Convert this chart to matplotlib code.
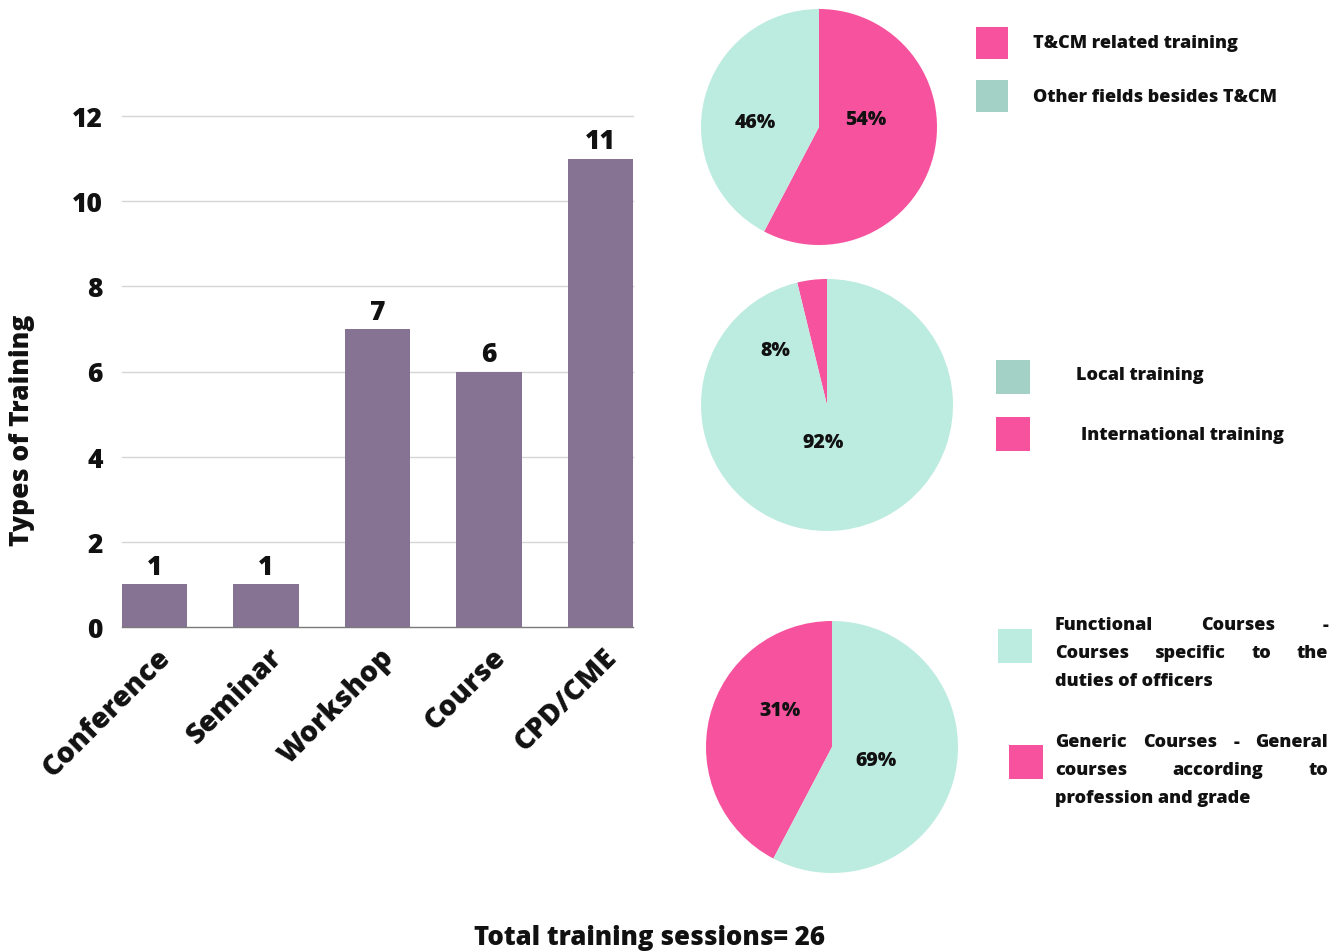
import matplotlib.pyplot as plt
import matplotlib.transforms as mtransforms
from matplotlib.patches import Rectangle

plt.rcParams['font.family'] = ['Open Sans', 'DejaVu Sans']
plt.rcParams['font.weight'] = 'bold'

# bar chart data
categories = ['Conference', 'Seminar', 'Workshop', 'Course', 'CPD/CME']
counts = [1, 1, 7, 6, 11]

# pie data (wedge sizes as drawn, labels as printed)
pie1_sizes = [57.7, 42.3]
pie1_labels = ['54%', '46%']
pie1_legend = ['T&CM related training', 'Other fields besides T&CM']

pie2_sizes = [3.8, 96.2]
pie2_labels = ['8%', '92%']
pie2_legend = ['Local training', 'International training']

pie3_sizes = [42.3, 57.7]
pie3_labels = ['31%', '69%']
pie3_legend = [['Functional Courses -', 'Courses specific to the', 'duties of officers'],
               ['Generic Courses - General', 'courses according to', 'profession and grade']]

PINK = '#F7529E'
MINT = '#BCEBDF'
MINT_DARK = '#A3D1C5'
PURPLE = '#867292'
INK = '#111111'
BOLD = 800

W, H = 1344, 953
fig = plt.figure(figsize=(W / 100, H / 100), dpi=100)


def px_axes(x0, y0, x1, y1):
    # axes from pixel box (top-left origin)
    return fig.add_axes([x0 / W, 1 - y1 / H, (x1 - x0) / W, (y1 - y0) / H])


def fig_xy(x, y):
    return x / W, 1 - y / H


# ---- bar chart
ax = px_axes(122, 117, 633, 628)
xpos = range(len(categories))
bars = ax.bar(xpos, counts, width=0.583, color=PURPLE, zorder=3)
ax.set_xlim(-0.2915, len(categories) - 1 + 0.2915)
ax.set_ylim(0, 12)
ax.set_yticks([0, 2, 4, 6, 8, 10, 12])
ax.set_yticklabels(['0', '2', '4', '6', '8', '10', '12'], fontsize=19, fontweight=BOLD, color=INK)
ax.tick_params(axis='y', length=0, pad=14)
ax.tick_params(axis='x', length=0, pad=4)
for y in [2, 4, 6, 8, 10, 12]:
    ax.axhline(y, color='#d6d6d6', lw=1, zorder=1, clip_on=False)
for s in ['top', 'right', 'left']:
    ax.spines[s].set_visible(False)
ax.spines['bottom'].set_color('#7a7a7a')
ax.spines['bottom'].set_linewidth(1)
ax.bar_label(bars, padding=3, fontsize=19, fontweight=BOLD, color=INK)
ax.set_xticks(list(xpos))
ax.set_xticklabels(categories, rotation=45, ha='right', va='center',
                   rotation_mode='anchor', fontsize=20.5, fontweight=BOLD, color=INK)
shift = mtransforms.ScaledTranslation(12 / 100, -20 / 100, fig.dpi_scale_trans)
for lab in ax.get_xticklabels():
    lab.set_transform(lab.get_transform() + shift)
ax.set_facecolor('none')

fig.text(*fig_xy(22, 430), 'Types of Training', rotation=90, ha='center', va='center',
         fontsize=19, fontweight=BOLD, color=INK)
fig.text(*fig_xy(650, 938), 'Total training sessions= 26', ha='center', va='center',
         fontsize=18.5, fontweight=BOLD, color=INK)


# ---- pies
def draw_pie(cx, cy, r, sizes, colors, ccw, labels, label_pos):
    pa = px_axes(cx - r, cy - r, cx + r, cy + r)
    pa.pie(sizes, colors=colors, startangle=90, counterclock=ccw, radius=1,
           wedgeprops=dict(linewidth=0))
    pa.set_xlim(-1, 1)
    pa.set_ylim(-1, 1)
    pa.set_aspect('equal')
    pa.axis('off')
    for t, (lx, ly) in zip(labels, label_pos):
        pa.text(lx, ly, t, ha='center', va='center', fontsize=14, fontweight=BOLD, color=INK)


draw_pie(819, 128, 118, pie1_sizes, [PINK, MINT], False, pie1_labels,
         [(0.40, 0.07), (-0.54, 0.04)])
draw_pie(827, 406, 126, pie2_sizes, [PINK, MINT], True, pie2_labels,
         [(-0.41, 0.44), (-0.03, -0.29)])
draw_pie(832, 748, 126, pie3_sizes, [PINK, MINT], True, pie3_labels,
         [(-0.41, 0.29), (0.35, -0.10)])


# ---- legends
def square(x0, y0, size, color):
    fx, fy = fig_xy(x0, y0 + size)
    fig.patches.append(Rectangle((fx, fy), size / W, size / H, transform=fig.transFigure,
                                 facecolor=color, edgecolor='none'))


def label(x, y, text, size=13):
    fig.text(*fig_xy(x, y), text, ha='left', va='center', fontsize=size,
             fontweight=BOLD, color=INK)


square(976, 28, 32, PINK)
label(1033, 44, pie1_legend[0])
square(976, 81, 32, MINT_DARK)
label(1033, 97, pie1_legend[1])

square(996, 361, 34, MINT_DARK)
label(1076, 376, pie2_legend[0])
square(996, 418, 34, PINK)
label(1081, 435, pie2_legend[1])

square(998, 630, 34, MINT)
square(1009, 746, 34, PINK)

renderer = fig.canvas.get_renderer()


def justified(lines, x0, x1, y0, step, size=13):
    for i, line in enumerate(lines):
        y = y0 + i * step
        words = line.split(' ')
        if i == len(lines) - 1 or len(words) == 1:
            label(x0, y, line, size)
            continue
        arts = [fig.text(0, 0, w, ha='left', va='center', fontsize=size,
                         fontweight=BOLD, color=INK) for w in words]
        widths = [a.get_window_extent(renderer).width for a in arts]
        gap = (x1 - x0 - sum(widths)) / (len(words) - 1)
        x = x0
        for a, wd in zip(arts, widths):
            a.set_position(fig_xy(x, y))
            x += wd + gap


justified(pie3_legend[0], 1055, 1328, 626, 28)
justified(pie3_legend[1], 1055, 1328, 743, 28)

fig.savefig('out.png', dpi=100)
